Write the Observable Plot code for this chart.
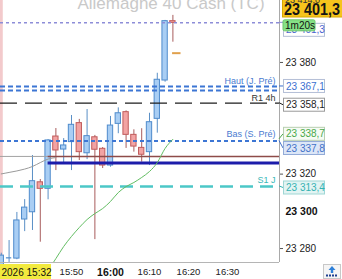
<!DOCTYPE html>
<html>
<head>
<meta charset="utf-8">
<script src="https://cdn.jsdelivr.net/npm/d3@7"></script>
<script src="https://cdn.jsdelivr.net/npm/@observablehq/plot@0.6"></script>
<style>
  html, body { margin: 0; padding: 0; background: #fff; }
  #chart svg { display: block; }
</style>
</head>
<body>
<div id="chart"></div>
<script>
// ---- data ---------------------------------------------------------------
const title = "Allemagne 40 Cash (TC)";
const day = "2026-01-15";
const times = ["15:32","15:34","15:36","15:38","15:40","15:42","15:44","15:46","15:48","15:50","15:52","15:54",
               "15:56","15:58","16:00","16:02","16:04","16:06","16:08","16:10","16:12","16:14","16:16"];
const open  = [23270.0,23275.0,23274.6,23295.6,23299.5,23315.6,23312.1,23340.2,23333.2,23337.2,23347.4,23331.2,
               23339.8,23333.6,23324.6,23347.0,23353.3,23341.1,23334.1,23331.8,23349.7,23370.3,23402.2];
const high  = [23277.5,23284.3,23299.4,23306.3,23330.0,23317.1,23338.6,23344.5,23339.1,23351.5,23349.4,23354.7,
               23340.8,23334.3,23351.0,23355.6,23354.0,23343.8,23344.4,23352.7,23374.2,23402.6,23405.3];
const low   = [23268.0,23272.5,23274.0,23289.1,23289.7,23283.4,23306.2,23321.9,23325.9,23321.9,23327.3,23327.8,
               23284.8,23323.0,23323.7,23341.7,23333.8,23331.8,23326.4,23324.6,23342.0,23369.4,23390.9];
const close = [23276.2,23275.0,23295.1,23302.0,23316.2,23312.1,23338.1,23332.7,23335.4,23346.5,23331.8,23340.4,
               23333.1,23324.6,23346.1,23352.7,23341.1,23334.8,23330.4,23347.9,23370.7,23402.2,23401.3];
// fast moving average (last 17 candles) and slow moving average (first 8 candles)
const maFast = [23268.2,23274.6,23281.1,23286.5,23291.3,23295.6,23298.8,23301.5,23305.3,23310.1,23313.3,
                23315.5,23318.2,23321.4,23326.2,23333.8,23338.7];
const maSlow = [23320.1,23320.9,23321.7,23322.7,23324.1,23326.2,23328.1,23328.9];

const lastPrice = 23401.3;
const sessionHigh = 23414.0;
const countdown = "1m20s";
const levelNames  = ["Haut (J. Pré)", "R1 4h", "Bas (S. Pré)", "S1 J"];
const levelValues = [23367.1, 23358.1, 23337.8, 23313.4];
const secondHigh = 23365.0;
const tagValues = [23367.1, 23358.1, 23338.7, 23337.8, 23313.4];
const boxLevel = 23329.5;      // brown level line
const boxLevelLow = 23326.0;   // navy level line
const levelStart = "15:44";
const targetTime = "16:17";
const targetValue = 23385.0;
const yTicks = [23380, 23320, 23280];
const yTickBold = [23300];
const xTicks = ["15:50", "16:10", "16:20", "16:30"];
const xTickBold = ["16:00"];
const cursorLabel = "2026 15:32";

// ---- helpers ------------------------------------------------------------
const T = s => new Date(`${day}T${s.length === 5 ? s + ":00" : s}Z`);
const loc = d3.formatLocale({decimal: ",", thousands: " ", grouping: [3], currency: ["", ""]});
const fmt0 = loc.format(",.0f");
const fmt1 = loc.format(",.1f");
const font = "'Liberation Sans', Arial, sans-serif";

const candles = times.map((t, i) => ({t: T(t), o: open[i], h: high[i], l: low[i], c: close[i], up: close[i] >= open[i]}));
const fastData = maFast.map((v, i) => ({t: T(times[times.length - maFast.length + i]), v}));
const slowData = maSlow.map((v, i) => ({t: T(times[i]), v}));

const xStart = T("15:31:48"), xEnd = T("16:43:20");
const half = 41; // seconds, half body width
const upFill = "#a9cef4", upStroke = "#4f8bcc", downFill = "#f2a3a3", downStroke = "#c05b5b";

const levelStyles = [
  {stroke: "#3d76d4", dash: "5,3", width: 2, dy: -5, fill: "#4a7bd0"},
  {stroke: "#1e1e1e", dash: "17,8", width: 1.2, dy: -5, fill: "#333"},
  {stroke: "#3d76d4", dash: "4,3", width: 2, dy: -7, fill: "#4a7bd0"},
  {stroke: "#4cc7c7", dash: "13,7", width: 2.5, dy: -6, fill: "#3ab8b8"}
];

const marks = [
  Plot.text([title], {frameAnchor: "top", text: d => d, dx: 31, dy: 3, lineAnchor: "middle",
    fontSize: 17, fill: "#c9c9c9"}),
  Plot.ruleX([T(times[0])], {stroke: "#f3cacc", strokeWidth: 3}),
  // wicks and bodies
  Plot.ruleX(candles, {x: "t", y1: "l", y2: "h", stroke: d => d.up ? "#5a8fc6" : "#a85c5c", strokeWidth: 1}),
  Plot.rect(candles.filter(d => d.o !== d.c), {
    x1: d => d3.utcSecond.offset(d.t, -half), x2: d => d3.utcSecond.offset(d.t, half),
    y1: "o", y2: "c",
    fill: d => d.up ? upFill : downFill, stroke: d => d.up ? upStroke : downStroke, strokeWidth: 1
  }),
  Plot.ruleY(candles.filter(d => d.o === d.c), {
    y: "o", x1: d => d3.utcSecond.offset(d.t, -half), x2: d => d3.utcSecond.offset(d.t, half),
    stroke: upStroke, strokeWidth: 1.2
  }),
  // level lines
  Plot.ruleY([lastPrice], {stroke: "#8d8dd8", strokeDasharray: "3,3", strokeWidth: 1.5}),
  Plot.ruleY([secondHigh], {stroke: levelStyles[0].stroke, strokeDasharray: "5,3", strokeWidth: 2}),
  ...levelValues.map((v, i) => Plot.ruleY([v], {stroke: levelStyles[i].stroke,
    strokeDasharray: levelStyles[i].dash, strokeWidth: levelStyles[i].width})),
  Plot.ruleY([{y: boxLevel, a: xStart, b: T(levelStart)}], {y: "y", x1: "a", x2: "b", stroke: "#a3a3a3", strokeWidth: 1}),
  Plot.ruleY([{y: boxLevel, a: T(levelStart), b: xEnd}], {y: "y", x1: "a", x2: "b", stroke: "#8e4b49", strokeWidth: 1.5}),
  Plot.ruleY([{y: boxLevelLow, a: T(levelStart), b: xEnd}], {y: "y", x1: "a", x2: "b", stroke: "#1c1caa", strokeWidth: 3}),
  Plot.ruleY([{y: targetValue, t: T(targetTime)}], {y: "y",
    x1: d => d3.utcSecond.offset(d.t, -65), x2: d => d3.utcSecond.offset(d.t, 65),
    stroke: "#e0a04c", strokeWidth: 2}),
  // moving averages
  Plot.line(slowData, {x: "t", y: "v", stroke: "#9a9a9a", strokeWidth: 1, curve: "monotone-x"}),
  Plot.line(fastData, {x: "t", y: "v", stroke: "#62bd62", strokeWidth: 1, curve: "monotone-x", clip: true}),
  // level labels
  ...levelNames.map((name, i) => Plot.text([{v: levelValues[i], name}], {
    x: () => xEnd, y: "v", text: "name", textAnchor: "end", dx: -4, dy: levelStyles[i].dy,
    lineAnchor: "middle", fontSize: 9, fill: levelStyles[i].fill
  })),
  // frame edges
  Plot.ruleX([xEnd], {stroke: "#a9a9a9", strokeWidth: 1}),
  Plot.ruleY([23272.5], {stroke: "#b5b5b5", strokeWidth: 1}),
  // axes
  Plot.axisY(yTicks, {anchor: "right", tickFormat: fmt0, tickSize: 3, tickPadding: 3, fontSize: 10, fill: "#222", stroke: "#555"}),
  Plot.axisY(yTickBold, {anchor: "right", tickFormat: fmt0, tickSize: 0, tickPadding: 6, fontSize: 10.5, fontWeight: "bold", fill: "#111"}),
  Plot.axisX(xTicks.map(T), {anchor: "bottom", tickFormat: d3.utcFormat("%H:%M"), tickSize: 0, tickPadding: 6, fontSize: 9.5, fill: "#222"}),
  Plot.axisX(xTickBold.map(T), {anchor: "bottom", tickFormat: d3.utcFormat("%H:%M"), tickSize: 0, tickPadding: 6, fontSize: 10.5, fontWeight: "bold", fill: "#111"})
];

const chart = Plot.plot({
  width: 342, height: 279,
  marginLeft: 0, marginRight: 63, marginTop: 0, marginBottom: 17,
  style: {fontFamily: font, fontSize: "10px", color: "#222", background: "#fff"},
  x: {type: "utc", domain: [xStart, xEnd], axis: null},
  y: {domain: [23272.5, 23413.3], axis: null},
  color: {type: "identity"},
  marks
});
document.getElementById("chart").appendChild(chart);

// ---- price tags in the right-hand panel --------------------------------
const svg = d3.select(chart);
const ys = chart.scale("y");
const xs = chart.scale("x");
const edge = xs.apply(xEnd);
const g = svg.append("g").attr("font-family", font).attr("font-size", 10).attr("text-anchor", "start");

const tagStyles = [
  {nudge: 0,    fill: "#ffffff", border: "#b4bfd6", text: "#3b6fd0"},
  {nudge: 2,    fill: "#ffffff", border: "#9a9a9a", text: "#1e1e1e"},
  {nudge: -5,   fill: "#f6fbf4", border: "#b7cfb0", text: "#4aa84a"},
  {nudge: 7.5,  fill: "#dce6f7", border: "#93abd8", text: "#4372c8"},
  {nudge: 1.6,  fill: "#e2f4f3", border: "#9fd6d4", text: "#34b2b2"}
];
tagValues.forEach((v, i) => {
  const s = tagStyles[i];
  const yl = ys.apply(v), yc = yl + s.nudge;
  g.append("path").attr("d", `M${edge},${yl}L${edge + 4},${yc}`).attr("stroke", s.text).attr("fill", "none");
  g.append("rect").attr("x", edge + 4.5).attr("y", yc - 6.5).attr("width", 41).attr("height", 13)
    .attr("fill", s.fill).attr("stroke", s.border);
  g.append("text").attr("x", edge + 7).attr("y", yc).attr("dy", "0.36em").attr("fill", s.text).text(fmt1(v));
});

// last price: plain tag, countdown and highlighted quote
const yLast = ys.apply(lastPrice);
g.append("path").attr("d", `M${edge},${yLast}L${edge + 4},${yLast}`).attr("stroke", "#8d8dd8");
g.append("rect").attr("x", edge + 4.5).attr("y", yLast + 1).attr("width", 41).attr("height", 13)
  .attr("fill", "#fff").attr("stroke", "#b4bfd6");
g.append("text").attr("x", edge + 7).attr("y", yLast + 7.5).attr("dy", "0.36em").attr("fill", "#4a62d0").text(fmt1(lastPrice));
g.append("rect").attr("x", edge + 4).attr("y", yLast - 2.5).attr("width", 32).attr("height", 11).attr("rx", 1.5)
  .attr("fill", "#86e186").attr("stroke", "#6cc76c");
g.append("text").attr("x", edge + 6).attr("y", yLast + 3).attr("dy", "0.36em").attr("fill", "#111").text(countdown);

g.append("rect").attr("x", edge + 3.5).attr("y", -4).attr("width", 60).attr("height", 21)
  .attr("fill", "#f6c41c").attr("stroke", "#d8a800");
g.append("text").attr("x", edge + 5).attr("y", 15).attr("font-size", 17).attr("font-weight", "bold")
  .attr("textLength", 56).attr("lengthAdjust", "spacingAndGlyphs").attr("fill", "#141414").text(fmt1(lastPrice));
g.append("rect").attr("x", edge + 4).attr("y", -4).attr("width", 40).attr("height", 6).attr("fill", "#f6c41c");
g.append("text").attr("x", edge + 6).attr("y", 3).attr("font-size", 9).attr("fill", "#333").text(fmt1(sessionHigh));

// cursor time label at the bottom left
const xc = xs.apply(T(times[0]));
g.append("rect").attr("x", 0).attr("y", 264).attr("width", 51).attr("height", 15).attr("fill", "#f2ea3e");
g.append("text").attr("x", 1.5).attr("y", 275.5).attr("fill", "#111").text(cursorLabel);

// small export button in the corner
const btn = g.append("g").attr("transform", `translate(${edge + 44},264)`);
btn.append("rect").attr("x", 0.5).attr("y", 0.5).attr("width", 17).attr("height", 14).attr("fill", "#f5f5f5").attr("stroke", "#c8c8c8");
btn.append("path").attr("d", "M9 2L5.5 6H7.8V9H10.2V6H12.5Z").attr("fill", "#2d7fd8");
btn.append("path").attr("d", "M3 11.5H15").attr("stroke", "#1f3f8f").attr("stroke-width", 2).attr("stroke-dasharray", "2,1");
</script>
</body>
</html>
